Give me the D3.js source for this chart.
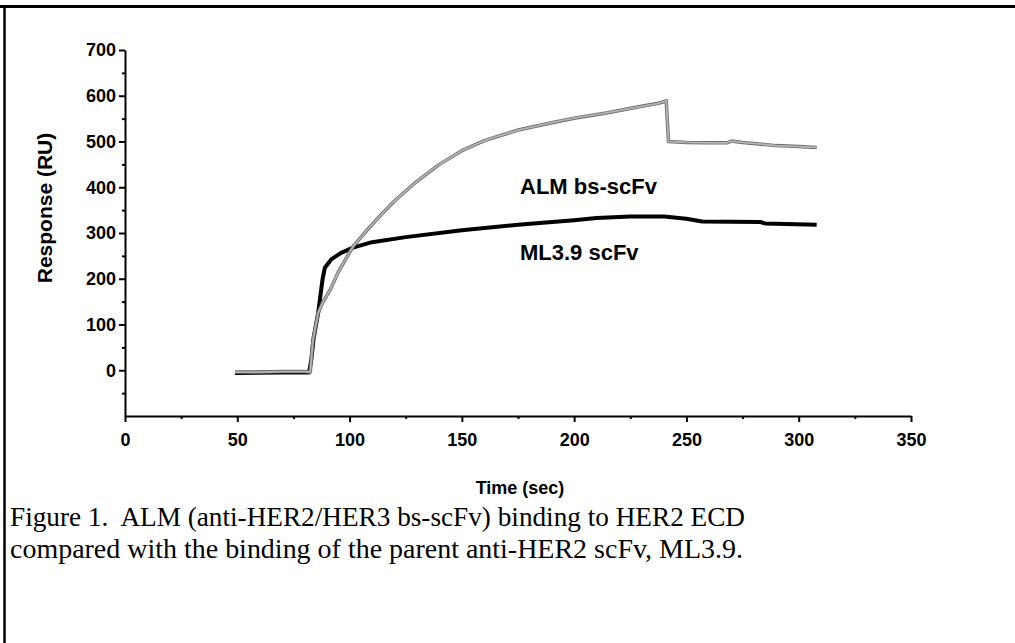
<!DOCTYPE html>
<html>
<head>
<meta charset="utf-8">
<title>Figure 1</title>
<script src="https://cdn.jsdelivr.net/npm/d3@7"></script>
<style>
    html, body { margin: 0; padding: 0; background: #fff; overflow: hidden; }
    svg { display: block; }
    .axis path, .axis line { stroke: #000; stroke-width: 2px; }
    .axis text { font-family: "Liberation Sans", Arial, sans-serif; font-weight: bold; font-size: 18px; fill: #000; }
    .lbl { font-family: "Liberation Sans", Arial, sans-serif; font-weight: bold; fill: #000; }
    .cap { font-family: "Liberation Serif", "Times New Roman", serif; font-size: 28px; fill: #000; }
</style>
</head>
<body>
<div id="chart"></div>
<script>
// time (sec) / response (RU)
var almTime  = [49, 60, 70, 80, 82.5, 83.7, 86, 88, 91.3, 95, 101.5, 107.7, 115, 120, 130, 140, 150, 160, 175, 190, 200, 215, 230, 237, 240, 241, 242, 250, 260, 268, 270, 275, 290, 300, 308];
var almValue = [-4, -4, -3, -3, -4, 66, 125, 148, 175, 215, 270, 306, 345, 370, 413, 450, 480, 502, 525, 541, 551, 563, 577, 583, 587, 589, 500, 498, 497, 497, 501, 498, 491, 489, 487];

var mlTime  = [49, 70, 82, 83, 84, 86, 88, 89, 92, 96, 101.5, 110, 125, 150, 175, 200, 210, 225, 240, 250, 257, 283, 285, 308];
var mlValue = [-6, -5, -5, 25, 70, 125, 200, 224, 243, 256, 268, 280, 291, 306, 318, 328, 333, 336, 336, 331, 325, 324, 321, 318];

var xTicks = [0, 50, 100, 150, 200, 250, 300, 350];
var xMinor = [25, 75, 125, 175, 225, 275, 325];
var yTicks = [0, 100, 200, 300, 400, 500, 600, 700];
var yMinor = [-50, 50, 150, 250, 350, 450, 550, 650];

var W = 1015, H = 643;

var svg = d3.select("#chart").append("svg")
    .attr("width", W)
    .attr("height", H);

// page frame (top and left rules only)
svg.append("line").attr("x1", 0).attr("x2", W).attr("y1", 6.5).attr("y2", 6.5)
    .attr("stroke", "#000").attr("stroke-width", 3);
svg.append("line").attr("x1", 4.5).attr("x2", 4.5).attr("y1", 5).attr("y2", H)
    .attr("stroke", "#000").attr("stroke-width", 2.5);

var x = d3.scaleLinear().domain([0, 350]).range([125, 911]);
var y = d3.scaleLinear().domain([-100, 700]).range([416, 50]);

// axes
svg.append("g")
    .attr("class", "axis")
    .attr("transform", "translate(0," + y(-100) + ")")
    .call(d3.axisBottom(x).tickValues(xTicks).tickSize(6).tickSizeOuter(0).tickPadding(11));

svg.append("g")
    .attr("class", "axis")
    .attr("transform", "translate(0," + y(-100) + ")")
    .call(d3.axisBottom(x).tickValues(xMinor).tickSize(3).tickFormat(""))
    .select(".domain").remove();

svg.append("g")
    .attr("class", "axis")
    .attr("transform", "translate(" + x(0) + ",0)")
    .call(d3.axisLeft(y).tickValues(yTicks).tickSize(6).tickSizeOuter(0).tickPadding(3));

svg.append("g")
    .attr("class", "axis")
    .attr("transform", "translate(" + x(0) + ",0)")
    .call(d3.axisLeft(y).tickValues(yMinor).tickSize(3).tickFormat(""))
    .select(".domain").remove();

// curves
var line = d3.line()
    .x(function(d) { return x(d[0]); })
    .y(function(d) { return y(d[1]); });

var ml = mlTime.map(function(t, i) { return [t, mlValue[i]]; });
var alm = almTime.map(function(t, i) { return [t, almValue[i]]; });

svg.append("path").datum(ml)
    .attr("d", line).attr("fill", "none")
    .attr("stroke", "#000").attr("stroke-width", 4)
    .attr("stroke-linejoin", "round");

// grey trace with a darker speckled edge, like the scan
svg.append("path").datum(alm)
    .attr("d", line).attr("fill", "none")
    .attr("stroke", "#6e6e6e").attr("stroke-width", 3.5)
    .attr("stroke-linejoin", "round");
svg.append("path").datum(alm)
    .attr("d", line).attr("fill", "none")
    .attr("stroke", "#b4b4b4").attr("stroke-width", 1.8)
    .attr("stroke-linejoin", "round");

// series labels
svg.append("text").attr("class", "lbl").attr("x", 520).attr("y", 194)
    .style("font-size", "22px").text("ALM bs-scFv");
svg.append("text").attr("class", "lbl").attr("x", 520).attr("y", 260)
    .style("font-size", "22px").text("ML3.9 scFv");

// axis titles
svg.append("text").attr("class", "lbl").attr("x", 520).attr("y", 494)
    .attr("text-anchor", "middle").style("font-size", "18px").text("Time (sec)");
svg.append("text").attr("class", "lbl")
    .attr("transform", "translate(52,208) rotate(-90)")
    .attr("text-anchor", "middle").style("font-size", "21px").text("Response (RU)");

// caption
svg.append("text").attr("class", "cap").attr("x", 10).attr("y", 526)
    .attr("textLength", 735).attr("lengthAdjust", "spacingAndGlyphs")
    .text("Figure 1.\u00a0 ALM (anti-HER2/HER3 bs-scFv) binding to HER2 ECD");
svg.append("text").attr("class", "cap").attr("x", 10).attr("y", 558)
    .attr("textLength", 733).attr("lengthAdjust", "spacingAndGlyphs")
    .text("compared with the binding of the parent anti-HER2 scFv, ML3.9.");
</script>
</body>
</html>
